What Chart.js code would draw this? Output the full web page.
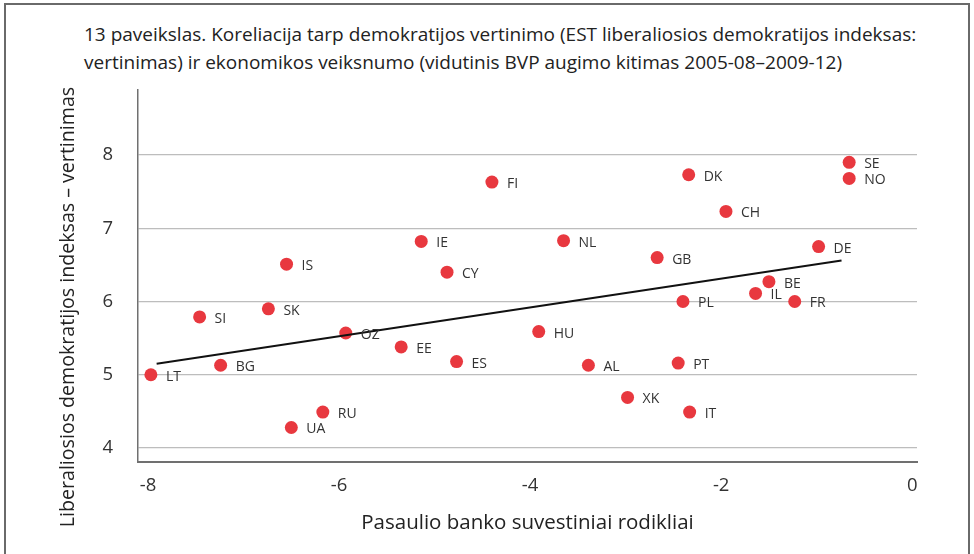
<!DOCTYPE html>
<html>
<head>
<meta charset="utf-8">
<script src="https://cdn.jsdelivr.net/npm/chart.js@4.4.1/dist/chart.umd.min.js"></script>
<style>
  body { margin: 0; background: #fff; overflow: hidden; }
  #wrap { position: relative; width: 974px; height: 554px; }
  #frame { position: absolute; left: 4px; top: 3px; width: 966px; height: 600px; border: 2px solid #6a6a6a; box-sizing: border-box; }
  #title { position: absolute; left: 84px; top: 20px; font-family: "Open Sans", sans-serif; font-size: 19px; line-height: 28px; color: #222; white-space: nowrap; }
  canvas { position: absolute; left: 0; top: 0; }
</style>
</head>
<body>
<div id="wrap">
  <div id="frame"></div>
  <div id="title">13 paveikslas. Koreliacija tarp demokratijos vertinimo (EST liberaliosios demokratijos indeksas:<br>vertinimas) ir ekonomikos veiksnumo (vidutinis BVP augimo kitimas 2005-08–2009-12)</div>
  <canvas id="chart" width="974" height="554"></canvas>
</div>
<script>
// data
const countries = ['LT', 'SI', 'BG', 'SK', 'IS', 'OZ', 'RU', 'UA', 'FI', 'IE', 'CY', 'NL', 'GB', 'EE', 'ES', 'HU', 'AL', 'XK',
                   'DK', 'SE', 'NO', 'CH', 'DE', 'BE', 'IL', 'FR', 'PL', 'PT', 'IT'];
const growth = [-7.97, -7.46, -7.24, -6.74, -6.55, -5.93, -6.17, -6.50, -4.40, -5.14, -4.87, -3.65, -2.67, -5.35, -4.77, -3.91, -3.39, -2.98,
                -2.34, -0.66, -0.66, -1.95, -0.98, -1.50, -1.64, -1.23, -2.40, -2.45, -2.33];
const democracy = [5.00, 5.79, 5.13, 5.90, 6.51, 5.57, 4.49, 4.28, 7.63, 6.82, 6.40, 6.83, 6.60, 5.38, 5.18, 5.59, 5.13, 4.69,
                   7.73, 7.90, 7.68, 7.23, 6.75, 6.27, 6.11, 6.00, 6.00, 5.16, 4.49];
const trendX = [-7.91, -0.74];
const trendY = [5.15, 6.56];
const xTicks = [-8, -6, -4, -2, 0];
const yTicks = [4, 5, 6, 7, 8];

const xTitle = 'Pasaulio banko suvestiniai rodikliai';
const yTitle = 'Liberaliosios demokratijos indeksas – vertinimas';

const FONT = '"Open Sans", sans-serif';

const pointLabels = {
    id: 'pointLabels',
    afterDatasetsDraw: function(chart) {
        const ctx = chart.ctx;
        const meta = chart.getDatasetMeta(1);
        ctx.save();
        ctx.font = '14px ' + FONT;
        ctx.fillStyle = '#333';
        ctx.textBaseline = 'middle';
        meta.data.forEach(function(pt, i) {
            ctx.fillText(countries[i], pt.x + 15, pt.y + 2);
        });
        ctx.restore();
    }
};

const axisTitles = {
    id: 'axisTitles',
    afterDraw: function(chart) {
        const ctx = chart.ctx;
        ctx.save();
        ctx.fillStyle = '#222';
        ctx.textAlign = 'center';
        ctx.textBaseline = 'middle';
        ctx.font = '20.5px ' + FONT;
        ctx.fillText(xTitle, (chart.chartArea.left + chart.chartArea.right) / 2, 523);
        ctx.font = '19.6px ' + FONT;
        ctx.translate(68, 307);
        ctx.rotate(-Math.PI / 2);
        ctx.fillText(yTitle, 0, 0);
        ctx.restore();
    }
};

const scatterData = growth.map(function(x, i) { return {x: x, y: democracy[i]}; });
const trendData = trendX.map(function(x, i) { return {x: x, y: trendY[i]}; });

new Chart(document.getElementById('chart'), {
    type: 'scatter',
    data: {
        datasets: [{
            type: 'line',
            data: trendData,
            borderColor: '#111',
            borderWidth: 2,
            pointRadius: 0,
            fill: false,
            order: 1
        },
        {
            data: scatterData,
            backgroundColor: '#e8383f',
            borderWidth: 0,
            pointRadius: 6.5,
            order: 2
        }]
    },
    options: {
        responsive: false,
        animation: false,
        layout: { padding: { left: 0, top: 90, right: 57, bottom: 0 } },
        plugins: { legend: { display: false }, tooltip: { enabled: false } },
        scales: {
            x: {
                type: 'linear',
                min: -8.105,
                max: 0.05,
                afterBuildTicks: function(scale) { scale.ticks = xTicks.map(function(v) { return {value: v}; }); },
                afterFit: function(scale) { scale.height = 92; },
                grid: { display: false, drawTicks: false },
                border: { display: true, color: '#707070', width: 2 },
                ticks: { padding: 13, color: '#333', font: { family: FONT, size: 18.5 } }
            },
            y: {
                min: 3.809,
                max: 8.887,
                afterBuildTicks: function(scale) { scale.ticks = yTicks.map(function(v) { return {value: v}; }); },
                afterFit: function(scale) { scale.width = 138; },
                grid: { color: '#bdbdbd', lineWidth: 1.2, drawTicks: false },
                border: { display: true, color: '#707070', width: 1.5 },
                ticks: { padding: 25, color: '#333', font: { family: FONT, size: 18.5 } }
            }
        }
    },
    plugins: [pointLabels, axisTitles]
});
</script>
</body>
</html>
